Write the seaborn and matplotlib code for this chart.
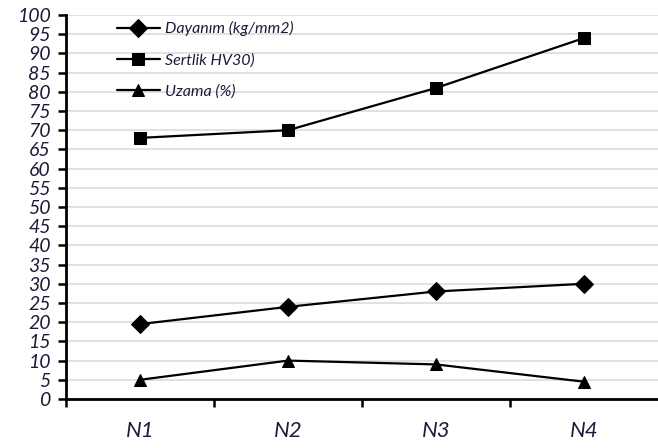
import numpy as np
import pandas as pd
import seaborn as sns
import matplotlib.pyplot as plt

sns.set_theme(style="white")
plt.rcParams['font.family'] = ['Lato', 'DejaVu Sans']

samples = ["N1", "N2", "N3", "N4"]
series = ["Dayanım (kg/mm2)", "Sertlik HV30)", "Uzama (%)"]
dayanim = [19.5, 24, 28, 30]
sertlik = [68, 70, 81, 94]
uzama = [5, 10, 9, 4.5]

df = pd.DataFrame({
    "sample": samples * 3,
    "series": np.repeat(series, 4),
    "value": dayanim + sertlik + uzama,
})

fig = plt.figure(figsize=(6.58, 4.48), dpi=100)
ax = fig.add_axes([0.1003, 0.1094, 0.8997, 0.8571])

sns.lineplot(data=df, x="sample", y="value", hue="series", style="series",
             palette=["black"] * 3, markers={series[0]: "D", series[1]: "s", series[2]: "^"},
             dashes=False, markersize=9, markeredgecolor="black", linewidth=1.6, ax=ax)

ax.set_xlim(-0.5, 3.5)
ax.set_ylim(0, 100)
ax.set_yticks(np.arange(0, 101, 5))
ax.set_xticks([-0.5, 0.5, 1.5, 2.5], minor=False)
ax.set_xticklabels([])
ax.set_xticks(range(4), minor=True)
ax.set_xticklabels(samples, minor=True)
ax.tick_params(axis="x", which="major", direction="out", length=6, width=1.8, color="black", bottom=True)
ax.tick_params(axis="x", which="minor", length=0, pad=16, labelsize=16)
ax.tick_params(axis="y", direction="out", length=6, width=1.8, color="black", left=True, labelsize=14, pad=5)
for lab in ax.get_yticklabels() + ax.get_xticklabels(minor=True):
    lab.set_fontstyle("italic")
    lab.set_color("#1c1c3a")

ax.grid(axis="y", color="#dcdcdc", linewidth=1.2)
ax.set_axisbelow(True)
for s in ["top", "right"]:
    ax.spines[s].set_visible(False)
for s in ["left", "bottom"]:
    ax.spines[s].set_color("black")
    ax.spines[s].set_linewidth(2)
ax.set_xlabel("")
ax.set_ylabel("")

leg = ax.legend(loc="upper left", bbox_to_anchor=(0.075, 1.0), frameon=False,
                handlelength=2.7, handletextpad=0.3, labelspacing=1.05,
                fontsize=11.5, borderaxespad=0)
for t in leg.get_texts():
    t.set_fontstyle("italic")
    t.set_color("#1c1c3a")

fig.savefig("out.png", dpi=100)
